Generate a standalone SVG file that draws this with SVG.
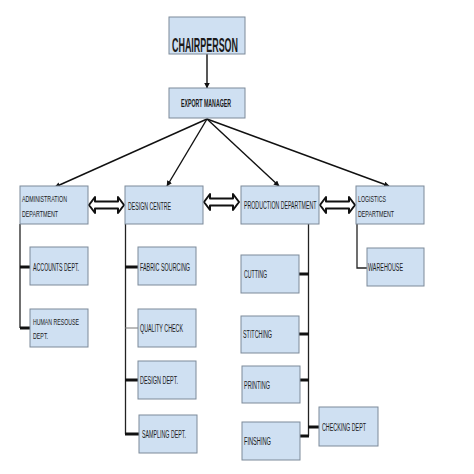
<svg xmlns="http://www.w3.org/2000/svg" width="474" height="474" viewBox="0 0 474 474">
<defs>
<style>
.box{fill:#cfe0f2;stroke:#7d8a99;stroke-width:1}
.t{font-family:"Liberation Sans",Arial,sans-serif;font-size:10px;fill:#1a1a1a}
.t2{font-size:9px}
.line{stroke:#222;stroke-width:1.3;fill:none}
.stub{stroke:#111;stroke-width:3;fill:none}
.thin{stroke:#777;stroke-width:1;fill:none}
.arr{stroke:#111;stroke-width:1.4;fill:none;marker-end:url(#ah)}
.dbl{fill:#fff;stroke:#111;stroke-width:2;stroke-linejoin:round}
</style>
<marker id="ah" viewBox="0 0 10 10" refX="9" refY="5" markerWidth="4" markerHeight="4" orient="auto">
<path d="M0,0 L10,5 L0,10 z" fill="#111"/>
</marker>
</defs>
<rect width="474" height="474" fill="#fff"/>

<g id="connectors">
<line class="arr" x1="207" y1="54" x2="207" y2="88"/>
<line class="arr" x1="207" y1="119" x2="55" y2="187"/>
<line class="arr" x1="207" y1="119" x2="167" y2="186"/>
<line class="arr" x1="207" y1="119" x2="279" y2="186"/>
<line class="arr" x1="207" y1="119" x2="389" y2="186"/>
<path class="dbl" d="M89,205 L95,197 L95,201.5 L118,201.5 L118,197 L124,205 L118,213 L118,208.5 L95,208.5 L95,213 Z"/>
<path class="dbl" d="M204,202 L210,194 L210,198.5 L233,198.5 L233,194 L239,202 L233,210 L233,205.5 L210,205.5 L210,210 Z"/>
<path class="dbl" d="M320,205 L326,197 L326,201.5 L349,201.5 L349,197 L355,205 L349,213 L349,208.5 L326,208.5 L326,213 Z"/>
<polyline class="line" points="20,224 20,328"/>
<line class="stub" x1="20" y1="267" x2="30" y2="267"/>
<line class="stub" x1="20" y1="328" x2="30" y2="328"/>
<polyline class="line" points="125.5,224 125.5,434"/>
<line class="stub" x1="125" y1="267" x2="138" y2="267"/>
<line class="thin" x1="125" y1="328" x2="138" y2="328"/>
<line class="stub" x1="125" y1="380" x2="138" y2="380"/>
<line class="stub" x1="125" y1="434" x2="139" y2="434"/>
<polyline class="line" points="308.5,224 308.5,436"/>
<line class="stub" x1="299" y1="274" x2="309" y2="274"/>
<line class="stub" x1="299" y1="334" x2="309" y2="334"/>
<line class="stub" x1="300" y1="380" x2="309" y2="380"/>
<line class="stub" x1="300" y1="436" x2="309" y2="436"/>
<line class="stub" x1="308" y1="427" x2="319" y2="427"/>
<polyline class="line" points="357,224 357,268 367,268"/>
</g>

<g id="chairperson"><rect class="box" x="169" y="17" width="76" height="37"/><text class="t" x="172" y="52" style="font-size:20px;font-weight:bold" textLength="66" lengthAdjust="spacingAndGlyphs">CHAIRPERSON</text></g>
<g id="export-manager"><rect class="box" x="169" y="88" width="76" height="30"/><text class="t" x="181" y="107" style="font-size:11px;font-weight:bold" textLength="50" lengthAdjust="spacingAndGlyphs">EXPORT MANAGER</text></g>

<g id="administration"><rect class="box" x="20" y="186" width="68" height="38"/><text class="t t2" x="22" y="202" textLength="45" lengthAdjust="spacingAndGlyphs">ADMINISTRATION</text><text class="t t2" x="22" y="217" textLength="36" lengthAdjust="spacingAndGlyphs">DEPARTMENT</text></g>
<g id="design-centre"><rect class="box" x="125" y="186" width="78" height="38"/><text class="t" x="128" y="210" textLength="43" lengthAdjust="spacingAndGlyphs">DESIGN CENTRE</text></g>
<g id="production"><rect class="box" x="241" y="186" width="78" height="38"/><text class="t" transform="translate(244,209) scale(0.526,1)">PRODUCTION DEPARTMENT</text></g>
<g id="logistics"><rect class="box" x="356" y="186" width="68" height="38"/><text class="t t2" x="358" y="202" textLength="28" lengthAdjust="spacingAndGlyphs">LOGISTICS</text><text class="t t2" x="358" y="217" textLength="36" lengthAdjust="spacingAndGlyphs">DEPARTMENT</text></g>

<g id="accounts"><rect class="box" x="30" y="247" width="58" height="38"/><text class="t" x="33" y="271" textLength="46" lengthAdjust="spacingAndGlyphs">ACCOUNTS DEPT.</text></g>
<g id="human-resouse"><rect class="box" x="30" y="309" width="58" height="38"/><text class="t t2" x="33" y="325" textLength="46" lengthAdjust="spacingAndGlyphs">HUMAN RESOUSE</text><text class="t t2" x="33" y="339" textLength="15" lengthAdjust="spacingAndGlyphs">DEPT.</text></g>

<g id="fabric-sourcing"><rect class="box" x="138" y="247" width="58" height="38"/><text class="t" x="140" y="271" textLength="50" lengthAdjust="spacingAndGlyphs">FABRIC SOURCING</text></g>
<g id="quality-check"><rect class="box" x="138" y="309" width="58" height="38"/><text class="t" x="140" y="332" textLength="43" lengthAdjust="spacingAndGlyphs">QUALITY CHECK</text></g>
<g id="design-dept"><rect class="box" x="138" y="361" width="58" height="38"/><text class="t" x="140" y="384" textLength="38" lengthAdjust="spacingAndGlyphs">DESIGN DEPT.</text></g>
<g id="sampling-dept"><rect class="box" x="139" y="415" width="58" height="38"/><text class="t" x="142" y="438" textLength="44" lengthAdjust="spacingAndGlyphs">SAMPLING DEPT.</text></g>

<g id="cutting"><rect class="box" x="241" y="255" width="58" height="38"/><text class="t" x="244" y="278" textLength="23" lengthAdjust="spacingAndGlyphs">CUTTING</text></g>
<g id="stitching"><rect class="box" x="241" y="316" width="58" height="37"/><text class="t" x="243" y="338" textLength="29" lengthAdjust="spacingAndGlyphs">STITCHING</text></g>
<g id="printing"><rect class="box" x="242" y="366" width="58" height="37"/><text class="t" x="244" y="389" textLength="26" lengthAdjust="spacingAndGlyphs">PRINTING</text></g>
<g id="finishing"><rect class="box" x="242" y="422" width="58" height="38"/><text class="t" x="244" y="445" textLength="27" lengthAdjust="spacingAndGlyphs">FINSHING</text></g>
<g id="checking-dept"><rect class="box" x="319" y="407" width="59" height="39"/><text class="t" x="322" y="431" textLength="44" lengthAdjust="spacingAndGlyphs">CHECKING DEPT</text></g>
<g id="warehouse"><rect class="box" x="367" y="248" width="57" height="38"/><text class="t" x="368" y="271" textLength="35" lengthAdjust="spacingAndGlyphs">WAREHOUSE</text></g>
</svg>
